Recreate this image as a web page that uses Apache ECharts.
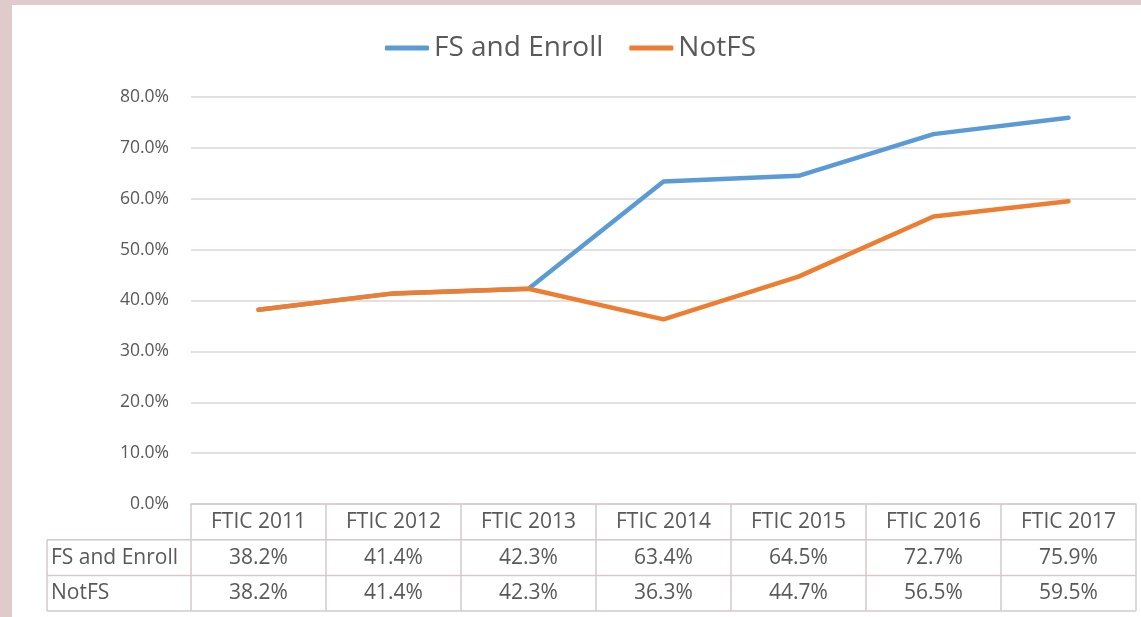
<!DOCTYPE html>
<html>
<head>
<meta charset="utf-8">
<script src="https://cdn.jsdelivr.net/npm/echarts@6/dist/echarts.min.js"></script>
<style>
html,body{margin:0;padding:0;background:#dfcbcb;}
#main{width:1141px;height:617px;}
</style>
</head>
<body>
<div id="main"></div>
<script>
// data
var categories = ['FTIC 2011', 'FTIC 2012', 'FTIC 2013', 'FTIC 2014', 'FTIC 2015', 'FTIC 2016', 'FTIC 2017'];
var fsEnroll = [38.2, 41.4, 42.3, 63.4, 64.5, 72.7, 75.9];
var notFS = [38.2, 41.4, 42.3, 36.3, 44.7, 56.5, 59.5];
var seriesNames = ['FS and Enroll', 'NotFS'];
var colors = ['#5b9bd5', '#ed7d31'];

var font = 'Open Sans';
var textColor = '#595959';
var borderColor = '#d3caca';

var chart = echarts.init(document.getElementById('main'));

function pct(v){ return v.toFixed(1) + '%'; }

var option = {
	backgroundColor: '#dfcbcb',
	animation: false,
	legend: {
		top: 29,
		left: 'center',
		itemWidth: 44,
		itemHeight: 5,
		itemGap: 26,
		icon: 'roundRect',
		textStyle: {fontFamily: font, fontSize: 28, color: textColor},
		data: seriesNames
	},
	grid: {left: 191, right: 5, top: 97, bottom: 113},
	xAxis: {
		type: 'category',
		data: categories,
		boundaryGap: true,
		axisLine: {show: true, lineStyle: {color: borderColor, width: 1.5}},
		axisTick: {show: false},
		axisLabel: {show: false}
	},
	yAxis: {
		type: 'value',
		min: 0, max: 80, interval: 10,
		axisLine: {show: false},
		axisTick: {show: false},
		splitLine: {lineStyle: {color: '#dcd6d6', width: 1.5}},
		axisLabel: {
			margin: 22,
			fontFamily: font, fontSize: 17.5, color: textColor,
			formatter: function(v){ return pct(v); }
		}
	},
	series: [
		{name: seriesNames[0], type: 'line', data: fsEnroll, symbol: 'none',
			lineStyle: {width: 4.5, color: colors[0], cap: 'round', join: 'round'}, itemStyle: {color: colors[0]}},
		{name: seriesNames[1], type: 'line', data: notFS, symbol: 'none',
			lineStyle: {width: 4.5, color: colors[1], cap: 'round', join: 'round'}, itemStyle: {color: colors[1]}}
	]
};
chart.setOption(option);

// data table under the chart, placed from the axis scales
var half = (chart.convertToPixel({xAxisIndex: 0}, 1) - chart.convertToPixel({xAxisIndex: 0}, 0)) / 2;
var y0 = chart.convertToPixel({yAxisIndex: 0}, 0);
var rowH = 35.7;
var tableLeft = 47;
var x0 = chart.convertToPixel({xAxisIndex: 0}, 0) - half;
var xEnd = chart.convertToPixel({xAxisIndex: 0}, categories.length - 1) + half;
var rows = [fsEnroll, notFS];

var g = [];
g.push({type: 'rect', z: -10, shape: {x: 12, y: 5, width: 1141, height: 620}, style: {fill: '#ffffff'}, silent: true});

function hline(x1, x2, y){
	g.push({type: 'line', shape: {x1: x1, y1: y, x2: x2, y2: y}, style: {stroke: borderColor, lineWidth: 1.5}, silent: true});
}
function vline(x, y1, y2){
	g.push({type: 'line', shape: {x1: x, y1: y1, x2: x, y2: y2}, style: {stroke: borderColor, lineWidth: 1.5}, silent: true});
}
function txt(x, y, s, align){
	g.push({type: 'text', x: x, y: y, style: {text: s, fill: textColor, fontFamily: font, fontSize: 21, align: align, verticalAlign: 'middle'}, silent: true});
}

hline(tableLeft, xEnd, y0 + rowH);
hline(tableLeft, xEnd, y0 + rowH * 2);
hline(tableLeft, xEnd, y0 + rowH * 3);
vline(tableLeft, y0 + rowH, y0 + rowH * 3);
for (var i = 0; i <= categories.length; i++) {
	vline(x0 + i * half * 2, y0, y0 + rowH * 3);
}
for (var i = 0; i < categories.length; i++) {
	var cx = chart.convertToPixel({xAxisIndex: 0}, i);
	txt(cx, y0 + rowH * 0.5, categories[i], 'center');
	for (var r = 0; r < rows.length; r++) {
		txt(cx, y0 + rowH * (r + 1.5), pct(rows[r][i]), 'center');
	}
}
for (var r = 0; r < rows.length; r++) {
	txt(tableLeft + 4, y0 + rowH * (r + 1.5), seriesNames[r], 'left');
}

chart.setOption({graphic: g});
</script>
</body>
</html>
